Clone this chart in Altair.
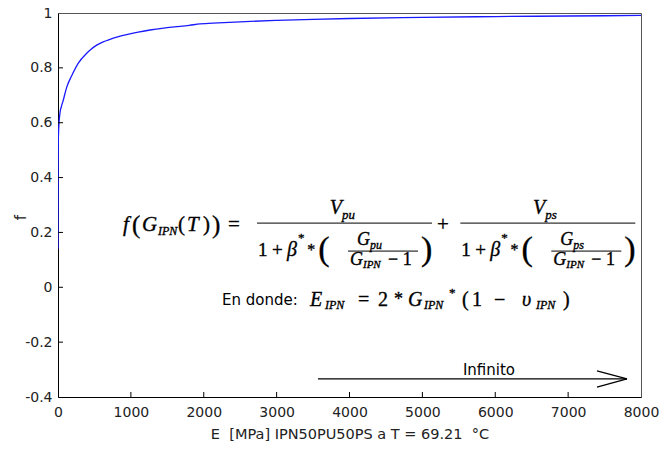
import altair as alt
import pandas as pd

# ---- curve data ----
E_vals = [0, 2, 4, 10, 27, 50, 73, 119, 188, 279, 394, 450, 531, 620, 713, 820,
          942, 1100, 1262, 1450, 1628, 1800, 1948, 2200, 2500, 3000, 3500, 4000,
          5000, 6000, 7000, 8000]
f_vals = [0.14, 0.45, 0.53, 0.58, 0.635, 0.662, 0.683, 0.729, 0.771, 0.817, 0.853,
          0.867, 0.883, 0.895, 0.904, 0.913, 0.921, 0.930, 0.938, 0.945, 0.95, 0.955,
          0.96, 0.964, 0.968, 0.973, 0.977, 0.980, 0.984, 0.987, 0.989, 0.991]

x_ticks = [0, 1000, 2000, 3000, 4000, 5000, 6000, 7000, 8000]
y_ticks = [-0.4, -0.2, 0, 0.2, 0.4, 0.6, 0.8, 1]

NB = "\u00a0"
x_title = "E" + NB + NB + "[MPa] IPN50PU50PS a T = 69.21" + NB + NB + "\u00b0C"
y_title = "f"

# ---- annotation pieces: (E, f, text, size, kind, align) ----
lhs = [
    (892, 0.227, "f", 21, "it", "left"),
    (1015, 0.227, "(", 25, "up", "left"),
    (1153, 0.227, "G", 21, "it", "left"),
    (1372, 0.205, "IPN", 12, "it", "left"),
    (1646, 0.227, "(", 21, "up", "left"),
    (1770, 0.227, "T", 21, "it", "left"),
    (1990, 0.227, ")", 21, "up", "left"),
    (2113, 0.227, ")", 25, "up", "left"),
    (2333, 0.227, "=", 21, "up", "left"),
    (5283, 0.227, "+", 21, "up", "center"),
]

def fraction(num_sub, dx):
    return [
        (3897 + dx, 0.289, "V", 20, "it", "right"),
        (3897 + dx, 0.264, num_sub, 13, "it", "left"),
        (2744 + dx, 0.136, "1", 19, "up", "left"),
        (2937 + dx, 0.136, "+", 19, "up", "left"),
        (3142 + dx, 0.136, "\u03b2", 20, "it", "left"),
        (3293 + dx, 0.180, "*", 13, "up", "left"),
        (3420 + dx, 0.136, "*", 16, "up", "left"),
        (3570 + dx, 0.136, "(", 34, "up", "left"),
        (4281 + dx, 0.172, "G", 18, "it", "right"),
        (4281 + dx, 0.154, num_sub, 12, "it", "left"),
        (4007 + dx, 0.100, "G", 18, "it", "left"),
        (4185 + dx, 0.081, "IPN", 11, "it", "left"),
        (4528 + dx, 0.100, "\u2212 1", 18, "up", "left"),
        (4981 + dx, 0.136, ")", 34, "up", "left"),
    ]

frac1 = fraction("pu", 0)
frac2 = fraction("ps", 2790)

where_line = [
    (2250, -0.046, "En donde:", 15, "sans", "left"),
    (3458, -0.046, "E", 20, "it", "left"),
    (3664, -0.065, "IPN", 12, "it", "left"),
    (4117, -0.046, "=", 20, "up", "left"),
    (4391, -0.046, "2", 20, "up", "left"),
    (4611, -0.046, "*", 18, "up", "left"),
    (4803, -0.046, "G", 20, "it", "left"),
    (5022, -0.065, "IPN", 12, "it", "left"),
    (5365, -0.021, "*", 13, "up", "left"),
    (5544, -0.046, "(", 20, "up", "left"),
    (5681, -0.046, "1", 20, "up", "left"),
    (5983, -0.046, "\u2212", 20, "up", "left"),
    (6367, -0.046, "\u03c5", 20, "it", "left"),
    (6559, -0.065, "IPN", 12, "it", "left"),
    (6930, -0.046, ")", 20, "up", "left"),
]

infinito = [(5914, -0.302, "Infinito", 15, "sans", "center")]

# fraction bars and arrow: (E, f, E2, f2)
bars = [
    (2731, 0.234, 5132, 0.234),
    (2731 + 2790, 0.234, 5132 + 2790, 0.234),
    (3979, 0.132, 4940, 0.132),
    (3979 + 2790, 0.132, 4940 + 2790, 0.132),
]
arrow = [
    (3568, -0.334, 7808, -0.334),
    (7396, -0.305, 7808, -0.334),
    (7396, -0.364, 7808, -0.334),
]

# ---------------------------------------------------------------
curve_df = pd.DataFrame({"E": E_vals, "f": f_vals})
pieces = pd.DataFrame(lhs + frac1 + frac2 + where_line + infinito,
                      columns=["E", "f", "text", "size", "kind", "align"])
seg_df = pd.DataFrame(bars, columns=["E", "f", "E2", "f2"])
arr_df = pd.DataFrame(arrow, columns=["E", "f", "E2", "f2"])

xs = alt.Scale(domain=[0, 8000], nice=False, zero=False)
ys = alt.Scale(domain=[-0.4, 1], nice=False, zero=False)

lab_font = "DejaVu Sans"
xaxis = alt.Axis(values=x_ticks, format="d", title=x_title, grid=False, ticks=False,
                 domainColor="black", labelFont=lab_font, labelFontSize=14,
                 labelColor="#222222", labelPadding=8, labelFlush=False,
                 labelOverlap=False, titleFont=lab_font, titleFontSize=14.5,
                 titleFontWeight="normal", titleColor="#222222", titlePadding=8)
yaxis = alt.Axis(values=y_ticks, title=y_title, grid=False, ticks=False,
                 domainColor="black", labelFont=lab_font, labelFontSize=14,
                 labelColor="#222222", labelPadding=6, labelFlush=False,
                 labelOverlap=False, labelExpr="'' + datum.value",
                 titleFont=lab_font, titleFontSize=15, titleFontWeight="normal",
                 titleColor="#222222", titleAngle=-90, titleX=-30, titleY=204,
                 titleBaseline="bottom", titleAlign="center")

X = alt.X("E:Q", scale=xs, axis=xaxis)
Y = alt.Y("f:Q", scale=ys, axis=yaxis)

curve = alt.Chart(curve_df).mark_line(color="#1a1aff", strokeWidth=1.3,
                                      interpolate="monotone", clip=True).encode(x=X, y=Y)

xtick_df = pd.DataFrame({"E": x_ticks[1:-1]})
ytick_df = pd.DataFrame({"f": y_ticks[1:-1]})
xt = alt.Chart(xtick_df).mark_rule(color="black", strokeWidth=1).encode(
    x=X, y=alt.value(384), y2=alt.value(379))
yt = alt.Chart(ytick_df).mark_rule(color="black", strokeWidth=1).encode(
    y=Y, x=alt.value(0), x2=alt.value(5))

segs = alt.Chart(seg_df).mark_rule(color="black", strokeWidth=1).encode(
    x=X, y=Y, x2="E2:Q", y2="f2:Q")
arrs = alt.Chart(arr_df).mark_rule(color="black", strokeWidth=1.2).encode(
    x=X, y=Y, x2="E2:Q", y2="f2:Q")

fonts = {"it": ("Liberation Serif", "italic", 0.35),
         "up": ("Liberation Serif", "normal", 0.35),
         "sans": ("DejaVu Sans", "normal", 0)}

text_layers = []
for (kind, align), grp in pieces.groupby(["kind", "align"]):
    fam, style, sw = fonts[kind]
    mark_kw = dict(font=fam, fontStyle=style, align=align, baseline="middle",
                   color="black")
    if sw > 0:
        mark_kw.update(stroke="black", strokeWidth=sw)
    text_layers.append(
        alt.Chart(grp).mark_text(**mark_kw).encode(
            x=X, y=Y, text="text:N", size=alt.Size("size:Q", scale=None)))

chart = alt.layer(curve, xt, yt, segs, arrs, *text_layers).properties(
    width=583, height=384,
    padding={"left": 58, "top": 13, "right": 23, "bottom": 53},
    autosize=alt.AutoSizeParams(type="none"),
    background="white",
).configure_view(stroke="#555555", strokeWidth=1)

chart.save("out.html", embed_options={"renderer": "svg", "actions": False})
